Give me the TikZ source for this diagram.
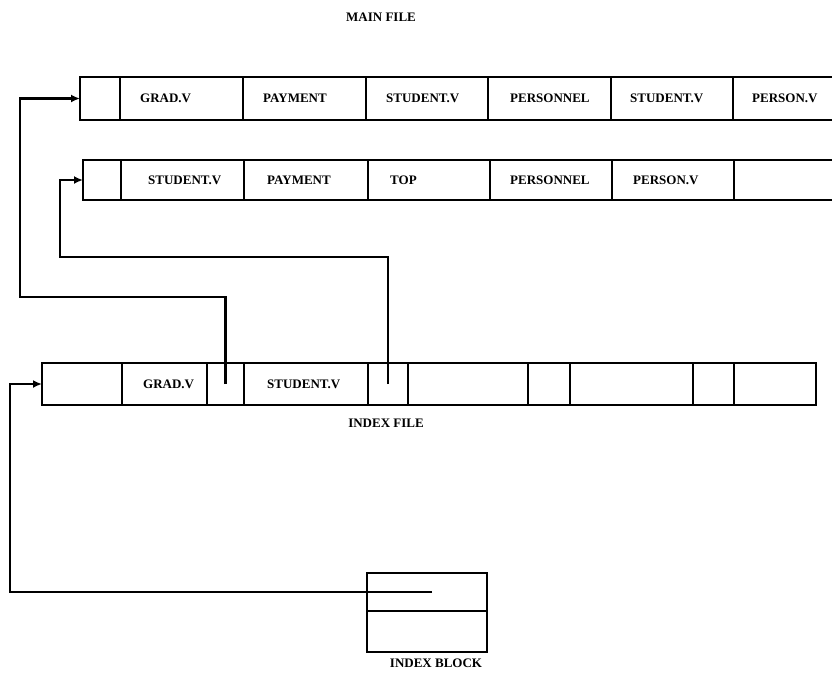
\documentclass[tikz,border=0pt]{standalone}
\usepackage{fontspec}
\setmainfont{Liberation Serif}
\usetikzlibrary{positioning, arrows.meta}

\begin{document}
\begin{tikzpicture}[x=1pt, y=-1pt,
  cell/.style={draw, line width=2.8pt, outer sep=0pt, inner sep=0pt, minimum height=#1},
  cell/.default=43pt,
  txt/.style={font=\fontsize{13}{15}\selectfont\bfseries, inner sep=0pt},
  link/.style={line width=2.8pt, -{Latex[length=9pt,width=8pt]}}
]
  \path[use as bounding box, clip] (0,0) rectangle (832,678);

  \node[txt] (mainlbl) at (381,17) {MAIN FILE};

  % main file, first block
  \node[cell, minimum width=40pt, anchor=north west] (m0) at (80,77) {};
  \node[cell, minimum width=123pt, right=0pt of m0] (m1) {};
  \node[cell, minimum width=123pt, right=0pt of m1] (m2) {};
  \node[cell, minimum width=122pt, right=0pt of m2] (m3) {};
  \node[cell, minimum width=123pt, right=0pt of m3] (m4) {};
  \node[cell, minimum width=122pt, right=0pt of m4] (m5) {};
  \node[cell, minimum width=122pt, right=0pt of m5] (m6) {};
  \node[txt, right=20pt of m1.west] (m1t) {GRAD.V};
  \node[txt, right=20pt of m2.west] (m2t) {PAYMENT};
  \node[txt, right=20pt of m3.west] (m3t) {STUDENT.V};
  \node[txt, right=22pt of m4.west] (m4t) {PERSONNEL};
  \node[txt, right=19pt of m5.west] (m5t) {STUDENT.V};
  \node[txt, right=19pt of m6.west] (m6t) {PERSON.V};

  % main file, second block
  \node[cell=40pt, minimum width=38pt, anchor=north west] (s0) at (83,160) {};
  \node[cell=40pt, minimum width=123pt, right=0pt of s0] (s1) {};
  \node[cell=40pt, minimum width=124pt, right=0pt of s1] (s2) {};
  \node[cell=40pt, minimum width=122pt, right=0pt of s2] (s3) {};
  \node[cell=40pt, minimum width=122pt, right=0pt of s3] (s4) {};
  \node[cell=40pt, minimum width=122pt, right=0pt of s4] (s5) {};
  \node[cell=40pt, minimum width=122pt, right=0pt of s5] (s6) {};
  \node[txt, right=27pt of s1.west] (s1t) {STUDENT.V};
  \node[txt, right=23pt of s2.west] (s2t) {PAYMENT};
  \node[txt, right=22pt of s3.west] (s3t) {TOP};
  \node[txt, right=20pt of s4.west] (s4t) {PERSONNEL};
  \node[txt, right=21pt of s5.west] (s5t) {PERSON.V};

  % index file
  \node[cell=42pt, minimum width=80pt, anchor=north west] (i0) at (42,363) {};
  \node[cell=42pt, minimum width=85pt, right=0pt of i0] (i1) {};
  \node[cell=42pt, minimum width=37pt, right=0pt of i1] (i2) {};
  \node[cell=42pt, minimum width=124pt, right=0pt of i2] (i3) {};
  \node[cell=42pt, minimum width=40pt, right=0pt of i3] (i4) {};
  \node[cell=42pt, minimum width=120pt, right=0pt of i4] (i5) {};
  \node[cell=42pt, minimum width=42pt, right=0pt of i5] (i6) {};
  \node[cell=42pt, minimum width=123pt, right=0pt of i6] (i7) {};
  \node[cell=42pt, minimum width=41pt, right=0pt of i7] (i8) {};
  \node[cell=42pt, minimum width=82pt, right=0pt of i8] (i9) {};
  \node[txt, right=21pt of i1.west] (i1t) {GRAD.V};
  \node[txt, right=23pt of i3.west] (i3t) {STUDENT.V};
  \node[txt] (idxlbl) at (386,423) {INDEX FILE};

  % index block
  \node[cell=38pt, minimum width=120pt, anchor=north west] (ib1) at (367,573) {};
  \node[cell=41pt, minimum width=120pt, anchor=north west] (ib2) at (ib1.south west) {};
  \node[txt] (iblbl) at (436,663) {INDEX BLOCK};
  \coordinate (ibp) at ([xshift=5pt]ib1.center);

  % pointers
  \draw[link] (ibp) -| ([xshift=-32pt]i0.west) -- (i0.west);
  \draw[link] (i2.center) -- ++(0,-87) -| ([xshift=-60pt]m0.west) -- (m0.west);
  \draw[link] (i4.center) -- ++(0,-127) -| ([xshift=-23pt]s0.west) -- (s0.west);
\end{tikzpicture}
\end{document}
